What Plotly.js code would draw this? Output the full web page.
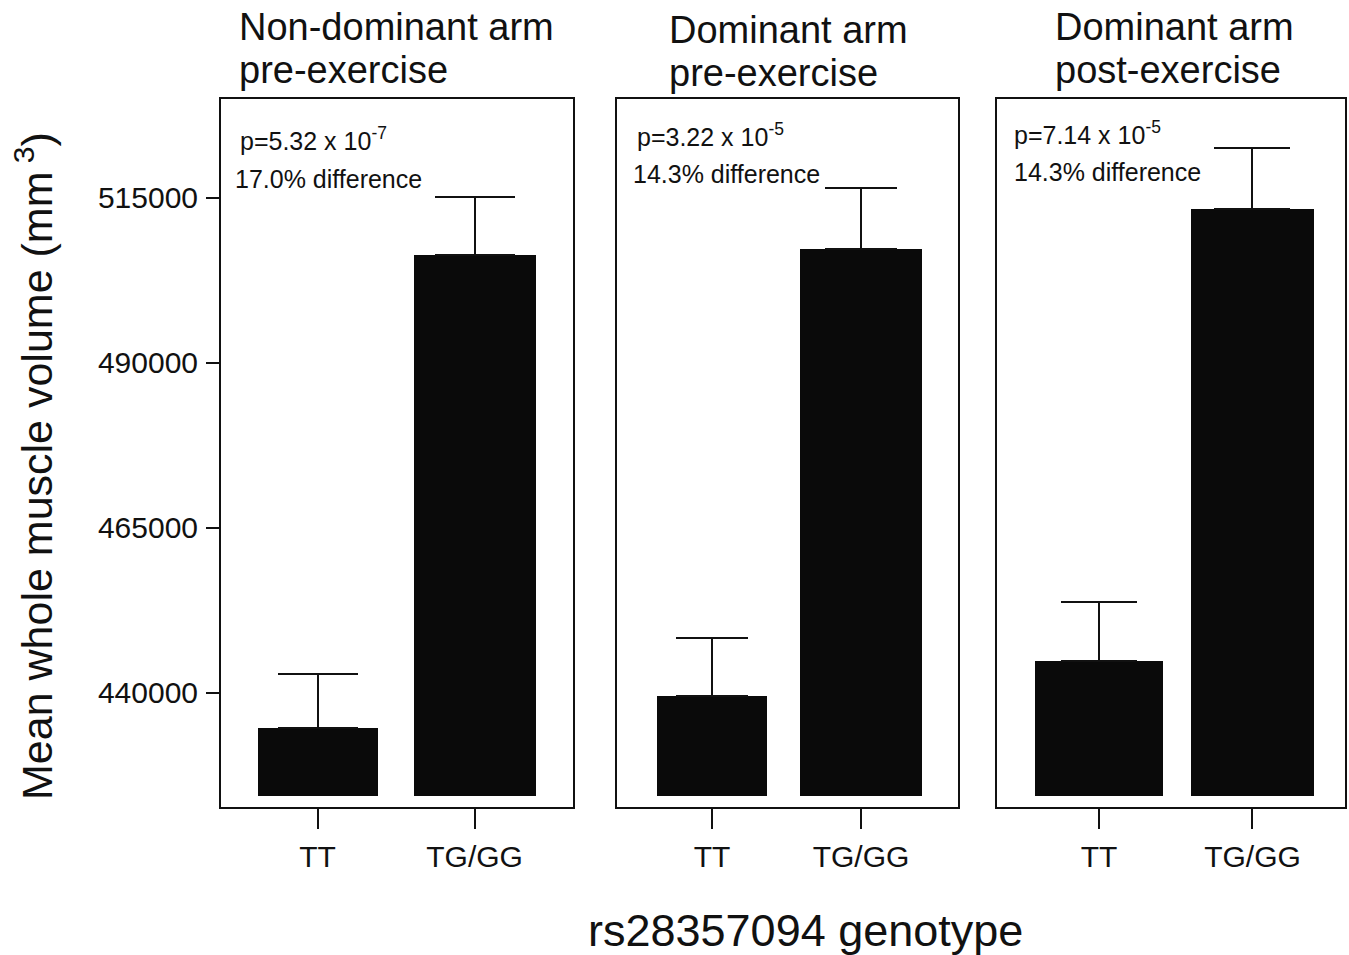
<!DOCTYPE html>
<html>
<head>
<meta charset="utf-8">
<script src="https://cdn.plot.ly/plotly-3.0.1.min.js"></script>
<style>html,body{margin:0;padding:0;background:#fff;}#chart{width:1349px;height:955px;}</style>
</head>
<body>
<div id="chart"></div>
<script>
// ---- Data ----
const genotypes = ["TT", "TG/GG"];
const panelTitles = ["Non-dominant arm<br>pre-exercise", "Dominant arm<br>pre-exercise", "Dominant arm<br>post-exercise"];
const pValues = ["p=5.32 x 10<sup>-7</sup>", "p=3.22 x 10<sup>-5</sup>", "p=7.14 x 10<sup>-5</sup>"];
const differences = ["17.0% difference", "14.3% difference", "14.3% difference"];
const nonDomPre = [434700, 506400];
const domPre = [439500, 507300];
const domPost = [444800, 513300];
const errNonDomPre = [8200, 8700];
const errDomPre = [8850, 9250];
const errDomPost = [8900, 9200];
const yTickVals = [440000, 465000, 490000, 515000];
const yTickText = ["440000", "465000", "490000", "515000"];
const barBase = 424400;
const yRange = [422700, 530000];

// ---- Layout helpers ----
const W = 1349, H = 955;
const px = x => x / W;
const py = y => 1 - y / H;
const FONT = "Liberation Sans, Arial, sans-serif";

const series = [nonDomPre, domPre, domPost];
const errs = [errNonDomPre, errDomPre, errDomPost];
const boxes = [[221, 573], [617, 958], [997, 1345]];
const xRanges = [[-0.615, 1.627], [-0.638, 1.651], [-0.665, 1.603]];
const barWidths = [[0.765, 0.777], [0.738, 0.819], [0.834, 0.801]];
const capWidths = [40, 36, 38];
const yDomain = [py(807), py(99)];

const traces = series.map((vals, i) => ({
  type: "bar",
  x: genotypes,
  y: vals.map(v => v - barBase),
  base: barBase,
  width: barWidths[i],
  xaxis: i === 0 ? "x" : "x" + (i + 1),
  yaxis: i === 0 ? "y" : "y" + (i + 1),
  marker: {color: "#0a0a0a", line: {width: 0}},
  error_y: {type: "data", symmetric: false, array: errs[i], arrayminus: [0, 0],
            color: "#111", thickness: 2, width: capWidths[i]},
  hoverinfo: "skip",
  showlegend: false
}));

const layout = {
  width: W, height: H,
  margin: {l: 0, r: 0, t: 0, b: 0},
  paper_bgcolor: "#fff", plot_bgcolor: "#fff",
  font: {family: FONT, color: "#111"},
  showlegend: false,
  bargap: 0,
  annotations: []
};

boxes.forEach((b, i) => {
  const sfx = i === 0 ? "" : String(i + 1);
  layout["xaxis" + sfx] = {
    domain: [px(b[0]), px(b[1])],
    anchor: "y" + sfx,
    type: "category",
    range: xRanges[i],
    showline: true, mirror: true, linecolor: "#111", linewidth: 2,
    ticks: "outside", ticklen: 20, tickwidth: 2, tickcolor: "#111",
    tickfont: {size: 30, family: FONT, color: "#111"},
    ticklabelstandoff: 2,
    showgrid: false, zeroline: false, fixedrange: true
  };
  layout["yaxis" + sfx] = {
    domain: yDomain,
    anchor: "x" + sfx,
    range: yRange,
    showline: true, mirror: true, linecolor: "#111", linewidth: 2,
    ticks: i === 0 ? "outside" : "",
    ticklen: 13, tickwidth: 2, tickcolor: "#111",
    tickvals: yTickVals, ticktext: yTickText,
    showticklabels: i === 0,
    tickfont: {size: 30, family: FONT, color: "#111"},
    ticklabelstandoff: 2,
    showgrid: false, zeroline: false, fixedrange: true
  };
});

// Panel titles (each line placed separately)
const titleLeft = [237, 667, 1053];
const titleLineY = [[27, 70], [30, 73], [27, 70]];
panelTitles.forEach((t, i) => {
  t.split("<br>").forEach((line, j) => {
    layout.annotations.push({
      xref: "paper", yref: "paper", x: px(titleLeft[i]), y: py(titleLineY[i][j]),
      xanchor: "left", yanchor: "middle", align: "left", showarrow: false,
      text: line, font: {size: 38, family: FONT, color: "#111"}
    });
  });
});
// p-values & differences
const pPos = [[238, 139], [635, 135], [1012, 133]];
const dPos = [[233, 179], [631, 174], [1012, 172]];
pValues.forEach((t, i) => {
  layout.annotations.push({
    xref: "paper", yref: "paper", x: px(pPos[i][0]), y: py(pPos[i][1]),
    xanchor: "left", yanchor: "middle", showarrow: false,
    text: t, font: {size: 25, family: FONT, color: "#111"}
  });
  layout.annotations.push({
    xref: "paper", yref: "paper", x: px(dPos[i][0]), y: py(dPos[i][1]),
    xanchor: "left", yanchor: "middle", showarrow: false,
    text: differences[i], font: {size: 25, family: FONT, color: "#111"}
  });
});
// Axis titles
layout.annotations.push({
  xref: "paper", yref: "paper", x: px(34), y: py(466),
  xanchor: "center", yanchor: "middle", textangle: -90, showarrow: false,
  text: "Mean whole muscle volume (mm<sup> 3</sup>)", font: {size: 43, family: FONT, color: "#111"}
});
layout.annotations.push({
  xref: "paper", yref: "paper", x: px(805), y: py(930),
  xanchor: "center", yanchor: "middle", showarrow: false,
  text: "rs28357094 genotype", font: {size: 45, family: FONT, color: "#111"}
});

Plotly.newPlot("chart", traces, layout, {staticPlot: true, displayModeBar: false});
</script>
</body>
</html>
